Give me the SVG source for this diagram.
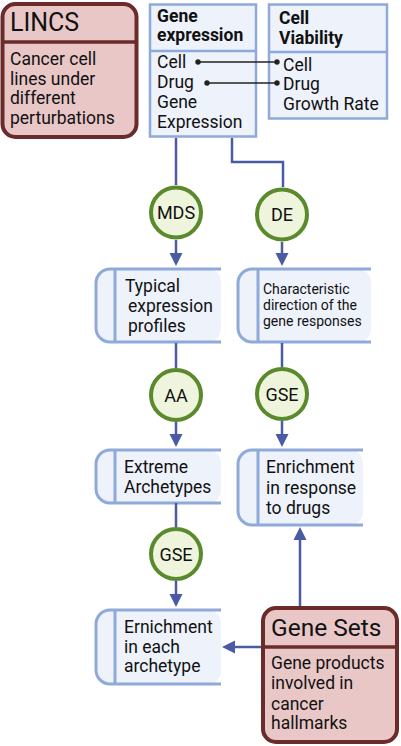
<svg xmlns="http://www.w3.org/2000/svg" width="401" height="746" viewBox="0 0 401 746">
<style>
text{font-family:Roboto,"Liberation Sans",sans-serif;fill:#111}
.red{fill:#e9c7c7;stroke:#6b2b2b;stroke-width:4}
.redl{stroke:#6b2b2b;stroke-width:3.5}
.tbl{fill:#edf2fb;stroke:#8fa9d9;stroke-width:2.5}
.tbll{stroke:#8fa9d9;stroke-width:2.5}
.bfill{fill:#edf2fb;stroke:none}
.bout{fill:none;stroke:#8fa9d9;stroke-width:3}
.circ{fill:#eef5dc;stroke:#5a8a2c;stroke-width:4}
.con{fill:none;stroke:#4a5ba3;stroke-width:2.5}
.ah{fill:#4a5ba3}
.b{font-weight:bold}
.ct{font-size:18px;text-anchor:middle}
.t{font-size:17.5px}
</style>
<g id="lincs">
<rect class="red" x="2.5" y="4" width="134" height="133" rx="13"/>
<line class="redl" x1="2.5" y1="42" x2="136.5" y2="42"/>
<text x="10" y="31" font-size="25">LINCS</text>
<text class="t" x="10" y="65">Cancer cell</text>
<text class="t" x="10" y="85">lines under</text>
<text class="t" x="10" y="104">different</text>
<text class="t" x="10" y="124">perturbations</text>
</g>
<g id="gene-expression">
<rect class="tbl" x="150" y="4.5" width="106" height="132"/>
<line class="tbll" x1="150" y1="51" x2="256" y2="51"/>
<text class="b t" x="157" y="22">Gene</text>
<text class="b t" x="157" y="41">expression</text>
<text class="t" x="157" y="68">Cell</text>
<text class="t" x="157" y="88">Drug</text>
<text class="t" x="157" y="108">Gene</text>
<text class="t" x="157" y="128">Expression</text>
</g>
<g id="cell-viability">
<rect class="tbl" x="269" y="4.5" width="118" height="114"/>
<line class="tbll" x1="269" y1="52" x2="387" y2="52"/>
<text class="b t" x="279" y="24">Cell</text>
<text class="b t" x="279" y="44">Viability</text>
<text class="t" x="283" y="71">Cell</text>
<text class="t" x="283" y="90">Drug</text>
<text class="t" x="283" y="110">Growth Rate</text>
</g>
<g id="mds"><circle class="circ" cx="176" cy="212.5" r="25"/><text class="ct" x="176" y="219">MDS</text></g>
<g id="de"><circle class="circ" cx="282" cy="214.5" r="25"/><text class="ct" x="282" y="221">DE</text></g>
<g id="aa"><circle class="circ" cx="176" cy="395" r="25"/><text class="ct" x="176" y="401.5">AA</text></g>
<g id="gse-right"><circle class="circ" cx="282" cy="394" r="25"/><text class="ct" x="282" y="400.5">GSE</text></g>
<g id="gse-left"><circle class="circ" cx="176" cy="554" r="25"/><text class="ct" x="176" y="560.5">GSE</text></g>
<g id="typical">
<rect class="bfill" x="96" y="269" width="125" height="73" rx="13"/>
<path class="bout" d="M221,269H110A14,14 0 0 0 96,283V328A14,14 0 0 0 110,342H221M115,269V342"/>
<text class="t" x="125" y="292">Typical</text>
<text class="t" x="128" y="312">expression</text>
<text class="t" x="128" y="332">profiles</text>
</g>
<g id="characteristic">
<rect class="bfill" x="238" y="269" width="133" height="73" rx="13"/>
<path class="bout" d="M371,269H252A14,14 0 0 0 238,283V328A14,14 0 0 0 252,342H371M258,269V342"/>
<text x="263" y="294" font-size="14">Characteristic</text>
<text x="263" y="310" font-size="14">direction of the</text>
<text x="263" y="326" font-size="14">gene responses</text>
</g>
<g id="extreme">
<rect class="bfill" x="96" y="450" width="125" height="53" rx="13"/>
<path class="bout" d="M221,450H110A14,14 0 0 0 96,464V489A14,14 0 0 0 110,503H221M115,450V503"/>
<text class="t" x="124" y="473">Extreme</text>
<text class="t" x="124" y="493">Archetypes</text>
</g>
<g id="enrichment-drugs">
<rect class="bfill" x="238" y="450" width="125" height="75" rx="13"/>
<path class="bout" d="M363,450H252A14,14 0 0 0 238,464V511A14,14 0 0 0 252,525H363M258,450V525"/>
<text class="t" x="266" y="473">Enrichment</text>
<text class="t" x="266" y="494">in response</text>
<text class="t" x="266" y="514">to drugs</text>
</g>
<g id="enrichment-archetype">
<rect class="bfill" x="96" y="610" width="125" height="74" rx="13"/>
<path class="bout" d="M221,610H110A14,14 0 0 0 96,624V670A14,14 0 0 0 110,684H221M115,610V684"/>
<text class="t" x="124" y="633">Ernichment</text>
<text class="t" x="124" y="653">in each</text>
<text class="t" x="124" y="672">archetype</text>
</g>
<g id="gene-sets">
<rect class="red" x="263" y="608" width="134" height="134" rx="13"/>
<line class="redl" x1="263" y1="647" x2="397" y2="647"/>
<text x="271" y="636" font-size="24.5">Gene Sets</text>
<text class="t" x="271" y="669">Gene products</text>
<text class="t" x="271" y="689">involved in</text>
<text class="t" x="271" y="710">cancer</text>
<text class="t" x="271" y="729">hallmarks</text>
</g>
<g id="connectors">
<path class="con" d="M176,138V185"/>
<path class="con" d="M232,138V162H283V187"/>
<path class="con" d="M176,240V255"/><polygon class="ah" points="169.5,253 182.5,253 176,266"/>
<path class="con" d="M282,242V255"/><polygon class="ah" points="275.5,253 288.5,253 282,266"/>
<path class="con" d="M176,343V368"/>
<path class="con" d="M282,343V367"/>
<path class="con" d="M176,422V436"/><polygon class="ah" points="169.5,434 182.5,434 176,447"/>
<path class="con" d="M282,421V436"/><polygon class="ah" points="275.5,434 288.5,434 282,447"/>
<path class="con" d="M176,503V527"/>
<path class="con" d="M176,581V596"/><polygon class="ah" points="169.5,594 182.5,594 176,607"/>
<path class="con" d="M300,606V538"/><polygon class="ah" points="293.5,540 306.5,540 300,527"/>
<path class="con" d="M261,647H233"/><polygon class="ah" points="235,640.5 235,653.5 222,647"/>
<line x1="198" y1="62" x2="277" y2="62" stroke="#222" stroke-width="1.5"/>
<line x1="207" y1="83" x2="277" y2="83" stroke="#222" stroke-width="1.5"/>
<circle cx="198" cy="62" r="2.7" fill="#222"/><circle cx="277" cy="62" r="2.7" fill="#222"/>
<circle cx="207" cy="83" r="2.7" fill="#222"/><circle cx="277" cy="83" r="2.7" fill="#222"/>
</g>
</svg>
